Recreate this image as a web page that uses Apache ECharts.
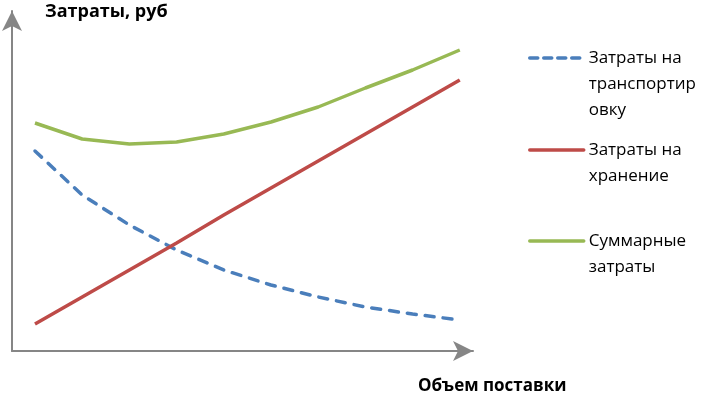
<!DOCTYPE html>
<html>
<head>
<meta charset="utf-8">
<script src="https://cdn.jsdelivr.net/npm/echarts@6/dist/echarts.min.js"></script>
<style>html,body{margin:0;padding:0;background:#fff}#c{width:701px;height:393px}</style>
</head>
<body>
<div id="c"></div>
<script>
// Data
const volume = [1, 2, 3, 4, 5, 6, 7, 8, 9, 10];
const transportCost = [200, 156, 126, 101, 81, 66, 54, 44, 37, 31];
const storageCost = [27, 54, 81, 108, 136, 163, 190, 217, 244, 271];
const totalCost = [228, 212, 207, 209, 217, 229, 244, 263, 281, 301];
const seriesNames = ['Затраты на\nтранспортир\nовку', 'Затраты на\nхранение', 'Суммарные\nзатраты'];
const yTitle = 'Затраты, руб';
const xTitle = 'Объем поставки';

const FONT = 'Open Sans';
const LH = 26;
const chart = echarts.init(document.getElementById('c'), null, {renderer: 'canvas'});
const pairs = arr => volume.map((v, i) => [v, arr[i]]);
const axisLine = {show: true, symbol: ['none', 'arrow'], symbolSize: [15, 20], lineStyle: {color: '#868686', width: 2}};
// legend: icon aligned with first text line
function makeLegend(name, iconY, dash) {
  const n = name.split('\n').length;
  const total = (2 * n - 1) * LH;
  return {
    data: [name], orient: 'vertical', left: 528, top: iconY - total / 2, padding: 0,
    itemWidth: 54, itemHeight: 14, selectedMode: false,
    itemStyle: {opacity: 0},
    lineStyle: {width: 3.5, type: dash || 'solid', cap: 'round'},
    formatter: nm => '\n'.repeat(n - 1) + nm,
    textStyle: {fontFamily: FONT, fontSize: 17, color: '#000', lineHeight: LH}
  };
}
chart.setOption({
  animation: false,
  title: [
    {text: yTitle, left: 45, top: 3, padding: 0, textStyle: {fontFamily: FONT, fontSize: 18, fontWeight: 'bold', color: '#000'}},
    {text: xTitle, left: 418, top: 378, padding: 0, textStyle: {fontFamily: FONT, fontSize: 17, fontWeight: 'bold', color: '#000'}}
  ],
  grid: {left: 12, top: 11, right: 228, bottom: 42},
  xAxis: {type: 'value', min: 0.513, max: 10.28, axisLine: axisLine, axisTick: {show: false}, axisLabel: {show: false}, splitLine: {show: false}},
  yAxis: {type: 'value', min: 0, max: 340, axisLine: axisLine, axisTick: {show: false}, axisLabel: {show: false}, splitLine: {show: false}},
  legend: [
    makeLegend(seriesNames[0], 58, [8, 6]),
    makeLegend(seriesNames[1], 150),
    makeLegend(seriesNames[2], 241)
  ],
  series: [
    {name: seriesNames[0], type: 'line', data: pairs(transportCost), symbol: 'none', color: '#4A7EBB',
     lineStyle: {color: '#4A7EBB', width: 3.5, type: [9, 9], cap: 'round'}},
    {name: seriesNames[1], type: 'line', data: pairs(storageCost), symbol: 'none', color: '#BE4B48',
     lineStyle: {color: '#BE4B48', width: 3.5}},
    {name: seriesNames[2], type: 'line', data: pairs(totalCost), symbol: 'none', color: '#98B954',
     lineStyle: {color: '#98B954', width: 3.5}}
  ]
});
</script>
</body>
</html>
